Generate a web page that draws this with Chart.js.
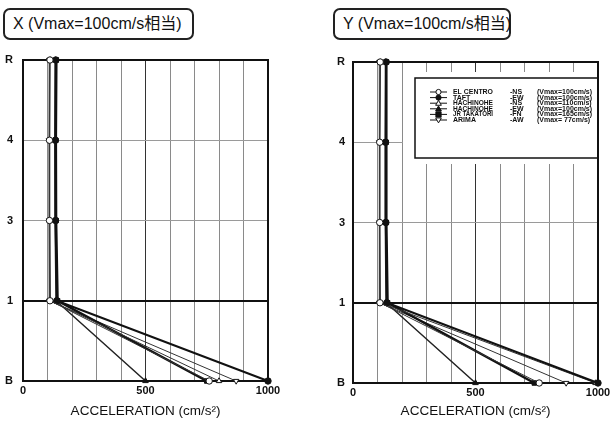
<!DOCTYPE html>
<html>
<head>
<meta charset="utf-8">
<script src="https://cdn.jsdelivr.net/npm/chart.js@4/dist/chart.umd.min.js"></script>
<style>
  html, body { margin: 0; padding: 0; background: #fff; }
  body { width: 614px; height: 423px; position: relative; overflow: hidden;
         font-family: "Liberation Sans", "Noto Sans CJK JP", sans-serif; }
  .panel { position: absolute; top: 0; width: 307px; height: 423px; }
  .cap { position: absolute; top: 8px; height: 32px; box-sizing: border-box;
         border: 2px solid #222; border-radius: 7px; color: #111;
         font-size: 16px; line-height: 28px; padding-left: 8px; white-space: nowrap; }
</style>
</head>
<body>
<div class="cap" style="left:3px; width:191px;">X (Vmax=100cm/s相当)</div>
<div class="cap" style="left:333px; width:178px;">Y (Vmax=100cm/s相当)</div>
<div class="panel" style="left:0"><canvas id="chartX" width="307" height="423"></canvas></div>
<div class="panel" style="left:307px"><canvas id="chartY" width="307" height="423"></canvas></div>

<script>
// Floors from base to roof (bottom to top of the vertical axis)
const floors = ['B', '1', '3', '4', 'R'];
const xTickLabels = [0, 500, 1000];

// Input ground motions
const records    = ['EL CENTRO', 'TAFT', 'HACHINOHE', 'HACHINOHE', 'JR TAKATORI', 'ARIMA'];
const components = ['-NS', '-EW', '-NS', '-EW', '-FN', '-AW'];
const vmaxNotes  = ['(Vmax=100cm/s)', '(Vmax=100cm/s)', '(Vmax=110cm/s)',
                    '(Vmax=100cm/s)', '(Vmax=165cm/s)', '(Vmax= 77cm/s)'];

// Peak floor acceleration (cm/s2), X direction, per floor B,1,3,4,R
const xElCentro  = [760, 110, 108, 108, 110];
const xTaft      = [1000, 138, 133, 132, 134];
const xHachiNS   = [800, 112, 110, 109, 111];
const xHachiEW   = [500, 135, 131, 130, 132];
const xTakatori  = [750, 141, 135, 134, 136];
const xArima     = [870, 107, 106, 106, 107];

// Peak floor acceleration (cm/s2), Y direction, per floor B,1,3,4,R
const yElCentro  = [760, 110, 109, 109, 111];
const yTaft      = [1000, 138, 134, 133, 135];
const yHachiNS   = [990, 112, 110, 110, 112];
const yHachiEW   = [500, 135, 132, 132, 133];
const yTakatori  = [740, 141, 136, 135, 137];
const yArima     = [870, 107, 107, 107, 108];

// Marker / line look of each record
const looks = [
  { style: 'circle',   fill: '#fff', rot: 0,   lw: 1,   color: '#333' },
  { style: 'circle',   fill: '#111', rot: 0,   lw: 2,   color: '#111' },
  { style: 'triangle', fill: '#fff', rot: 0,   lw: 1,   color: '#333' },
  { style: 'triangle', fill: '#111', rot: 0,   lw: 1.5, color: '#222' },
  { style: 'rect',     fill: '#111', rot: 0,   lw: 2.5, color: '#111' },
  { style: 'triangle', fill: '#fff', rot: 180, lw: 1,   color: '#333' }
];

const FONT = '"Liberation Sans", "Noto Sans CJK JP", sans-serif';

function makeDatasets(seriesList) {
  return seriesList.map((vals, i) => ({
    label: records[i] + ' ' + components[i],
    data: vals.map((v, k) => ({ x: v, y: k })),
    borderColor: looks[i].color,
    borderWidth: looks[i].lw,
    pointStyle: looks[i].style,
    pointRotation: looks[i].rot,
    pointRadius: 3.2,
    pointBackgroundColor: looks[i].fill,
    pointBorderColor: '#111',
    pointBorderWidth: 1,
    tension: 0,
    fill: false,
    clip: false
  }));
}

// Black box round the plotting area
const frame = {
  id: 'frame',
  beforeDatasetsDraw(chart) {
    const a = chart.chartArea, c = chart.ctx;
    c.save();
    c.strokeStyle = '#111';
    c.lineWidth = 2;
    c.strokeRect(a.left, a.top, a.right - a.left, a.bottom - a.top);
    c.restore();
  }
};

function marker(c, look, x, y, r) {
  c.save();
  c.fillStyle = look.fill;
  c.strokeStyle = '#111';
  c.lineWidth = 1;
  c.beginPath();
  if (look.style === 'circle') {
    c.arc(x, y, r, 0, Math.PI * 2);
  } else if (look.style === 'rect') {
    c.rect(x - r, y - r, 2 * r, 2 * r);
  } else {
    const s = look.rot ? -1 : 1;
    c.moveTo(x, y - s * r * 1.1);
    c.lineTo(x - r * 1.1, y + s * r * 0.8);
    c.lineTo(x + r * 1.1, y + s * r * 0.8);
    c.closePath();
  }
  c.fill();
  c.stroke();
  c.restore();
}

// Record key drawn inside the Y-direction plot
const recordKey = {
  id: 'recordKey',
  afterDatasetsDraw(chart) {
    const c = chart.ctx, a = chart.chartArea;
    c.save();
    c.fillStyle = '#fff';
    c.fillRect(96, 72, a.right - 1 - 96, 92);
    c.strokeStyle = '#111';
    c.lineWidth = 1.5;
    c.strokeRect(108, 78, a.right - 108, 80);
    c.lineWidth = 2;
    c.beginPath();
    c.moveTo(a.right, a.top);
    c.lineTo(a.right, a.bottom);
    c.stroke();
    c.textBaseline = 'middle';
    c.fillStyle = '#111';
    for (let i = 0; i < records.length; i++) {
      const y = 92 + i * 5.6;
      c.strokeStyle = '#111';
      c.lineWidth = 1;
      c.beginPath();
      c.moveTo(123, y);
      c.lineTo(140, y);
      c.stroke();
      marker(c, looks[i], 131.5, y, 2.6);
      c.fillStyle = '#111';
      c.font = 'bold 7px ' + FONT;
      c.fillText(records[i], 146, y, 40);
      c.fillText(components[i], 203, y, 14);
      c.fillText(vmaxNotes[i], 230, y, 58);
    }
    c.restore();
  }
};

function buildChart(id, seriesList, box, withKey) {
  const W = 307, H = 423;
  return new Chart(document.getElementById(id), {
    type: 'line',
    data: { datasets: makeDatasets(seriesList) },
    options: {
      responsive: false,
      animation: false,
      events: [],
      layout: { padding: { top: box.top, right: W - box.right, left: 0, bottom: 0 } },
      plugins: { legend: { display: false }, tooltip: { enabled: false } },
      scales: {
        x: {
          type: 'linear', min: 0, max: 1000,
          afterFit(s) { s.height = H - box.bottom; },
          border: { display: false },
          grid: {
            drawTicks: false,
            color: (ctx) => ctx.tick && ctx.tick.value === 500 ? '#333' : '#8a8a8a',
            lineWidth: 1
          },
          ticks: {
            stepSize: 100, autoSkip: false, maxRotation: 0, padding: 3,
            color: '#111', font: { family: FONT, size: 11, weight: 'bold' },
            callback: (v) => xTickLabels.includes(v) ? String(v) : ''
          },
          title: {
            display: true, text: 'ACCELERATION (cm/s²)', color: '#111',
            font: { family: FONT, size: 13.5 }, padding: { top: 0, bottom: 4 }
          }
        },
        y: {
          type: 'linear', min: 0, max: floors.length - 1,
          afterFit(s) { s.width = box.left; },
          border: { display: false },
          grid: {
            drawTicks: false,
            color: (ctx) => ctx.tick && ctx.tick.value === 1 ? '#111' : '#9a9a9a',
            lineWidth: (ctx) => ctx.tick && ctx.tick.value === 1 ? 2 : 1
          },
          ticks: {
            stepSize: 1, padding: box.yPad,
            color: '#111', font: { family: FONT, size: 11, weight: 'bold' },
            callback: (v) => floors[v] !== undefined ? floors[v] : ''
          }
        }
      }
    },
    plugins: withKey ? [frame, recordKey] : [frame]
  });
}

buildChart('chartX', [xElCentro, xTaft, xHachiNS, xHachiEW, xTakatori, xArima],
           { left: 23, right: 268, top: 60, bottom: 381, yPad: 10 }, false);
buildChart('chartY', [yElCentro, yTaft, yHachiNS, yHachiEW, yTakatori, yArima],
           { left: 46, right: 291, top: 62, bottom: 383, yPad: 8 }, true);
</script>
</body>
</html>
